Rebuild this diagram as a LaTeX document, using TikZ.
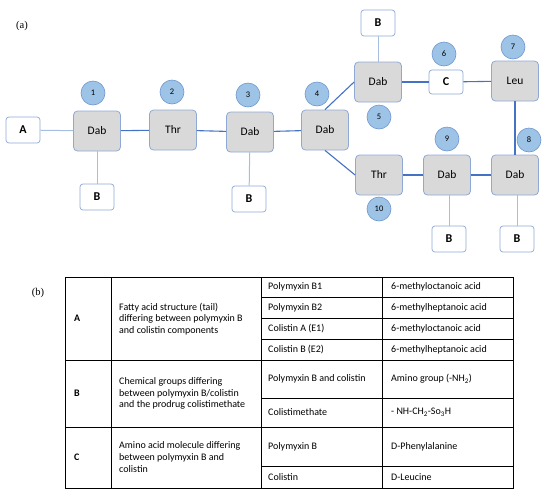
\documentclass[tikz,border=0pt]{standalone}
\usepackage{fontspec}
\setmainfont{Carlito}
\newfontfamily\serifcap{Liberation Serif}
\definecolor{boxfill}{HTML}{D9D9D9}
\definecolor{boxedge}{HTML}{8FA9D6}
\definecolor{circfill}{HTML}{9DC3E6}
\definecolor{circedge}{HTML}{6F97CF}
\definecolor{mainline}{HTML}{4472C4}
\definecolor{thinline}{HTML}{A6BEE0}
\begin{document}
\begin{tikzpicture}[x=1pt,y=-1pt,
  aa/.style={draw=boxedge, fill=boxfill, rounded corners=4pt, minimum width=47pt, minimum height=40pt, inner sep=0pt, line width=0.8pt, font=\fontsize{11.5}{13}\selectfont},
  grp/.style={draw=boxedge, fill=white, rounded corners=3pt, minimum width=34pt, minimum height=26pt, inner sep=0pt, line width=0.7pt, font=\bfseries\fontsize{12}{14}\selectfont},
  num/.style={circle, draw=circedge, fill=circfill, minimum size=24pt, inner sep=0pt, line width=0.6pt, font=\fontsize{8.5}{9}\selectfont},
  bond/.style={draw=mainline, line width=1.1pt},
  side/.style={draw=thinline, line width=1pt},
  cell/.style={anchor=west, inner sep=0pt, align=left, font=\fontsize{10}{11.6}\selectfont},
  grid/.style={draw=black, line width=1pt},
  lab/.style={font=\serifcap\fontsize{10.5}{12}\selectfont, inner sep=0pt}]
\useasboundingbox (0,0) rectangle (550,499);
% labels
\node[lab] (la) at (22,26) {(a)};
\node[lab] (lb) at (38,293) {(b)};
% amino acid boxes
\node[aa] (d1) at (97,131) {Dab};
\node[aa] (t2) at (173,130) {Thr};
\node[aa] (d3) at (250,132) {Dab};
\node[aa] (d4) at (325,130) {Dab};
\node[aa] (d5) at (378,82) {Dab};
\node[aa] (l7) at (515,81) {Leu};
\node[aa] (d8) at (515,175) {Dab};
\node[aa] (d9) at (447,175) {Dab};
\node[aa] (t10) at (379,175) {Thr};
% group boxes
\node[grp] (ga) at (23,130) {A};
\node[grp] (gc) at (446,82) [minimum height=24pt] {C};
\node[grp] (b1) at (97,197) {B};
\node[grp] (b3) at (249,199) {B};
\node[grp] (b5) at (378,23) {B};
\node[grp] (b9) at (449,239) {B};
\node[grp] (b8) at (517,239) {B};
% numbers
\node[num] (n1) at (93,93) {1};
\node[num] (n2) at (172,92) {2};
\node[num] (n3) at (248,95) {3};
\node[num] (n4) at (317,94) {4};
\node[num] (n5) at (379,117) {5};
\node[num] (n6) at (444,54) {6};
\node[num] (n7) at (513,47) {7};
\node[num] (n8) at (529,140) {8};
\node[num] (n9) at (447,139) {9};
\node[num] (n10) at (379,209) {10};
% connectors
\draw[side] (ga) -- (d1);
\draw[bond] (d1) -- (t2);
\draw[bond] (t2) -- (d3);
\draw[bond] (d3) -- (d4);
\draw[bond] (d4.north) -- (d5.west);
\draw[bond] (d4.south) -- (t10.west);
\draw[bond] (d5) -- (gc);
\draw[bond] (gc) -- (l7);
\draw[bond] (l7) -- (d8);
\draw[bond] (d8) -- (d9);
\draw[bond] (d9) -- (t10);
\draw[side] (d1) -- (b1);
\draw[side] (d3) -- (b3);
\draw[side] (d5) -- (b5);
\draw[side] (d9.south -| b9) -- (b9);
\draw[side] (d8.south -| b8) -- (b8);
% table
\coordinate (tl) at (65,277);
\coordinate (br) at (513,488);
\draw[grid] (tl) rectangle (br);
\draw[grid] (111,277) -- (111,488);
\draw[grid] (261,277) -- (261,488);
\draw[grid] (382,277) -- (382,488);
\draw[grid] (65,360) -- (513,360);
\draw[grid] (65,427) -- (513,427);
\draw[grid] (261,297) -- (513,297);
\draw[grid] (261,318) -- (513,318);
\draw[grid] (261,339) -- (513,339);
\draw[grid] (261,398) -- (513,398);
\draw[grid] (261,466) -- (513,466);
% table text
\node[cell, font=\bfseries\fontsize{10}{11.6}\selectfont] (ta) at (74,318.5) {A};
\node[cell, font=\bfseries\fontsize{10}{11.6}\selectfont] (tb) at (74,393.5) {B};
\node[cell, font=\bfseries\fontsize{10}{11.6}\selectfont] (tc) at (74,457.5) {C};
\node[cell] (da) at (119,319) {Fatty acid structure (tail)\\differing between polymyxin B\\and colistin components};
\node[cell] (db) at (119,393.5) {Chemical groups differing\\between polymyxin B/colistin\\and the prodrug colistimethate};
\node[cell] (dc) at (119,457) {Amino acid molecule differing\\between polymyxin B and\\colistin};
\node[cell] (c1) at (268,287) {Polymyxin B1};
\node[cell] (c2) at (268,307.5) {Polymyxin B2};
\node[cell] (c3) at (268,328.5) {Colistin A (E1)};
\node[cell] (c4) at (268,349.5) {Colistin B (E2)};
\node[cell] (c5) at (268,379) {Polymyxin B and colistin};
\node[cell] (c6) at (268,412.5) {Colistimethate};
\node[cell] (c7) at (268,446.5) {Polymyxin B};
\node[cell] (c8) at (268,477) {Colistin};
\node[cell] (v1) at (391,287) {6-methyloctanoic acid};
\node[cell] (v2) at (391,307.5) {6-methylheptanoic acid};
\node[cell] (v3) at (391,328.5) {6-methyloctanoic acid};
\node[cell] (v4) at (391,349.5) {6-methylheptanoic acid};
\node[cell] (v5) at (391,379) {Amino group (-NH\textsubscript{2})};
\node[cell] (v6) at (391,412.5) {- NH-CH\textsubscript{2}-So\textsubscript{3}H};
\node[cell] (v7) at (391,446.5) {D-Phenylalanine};
\node[cell] (v8) at (391,477) {D-Leucine};
\end{tikzpicture}
\end{document}
